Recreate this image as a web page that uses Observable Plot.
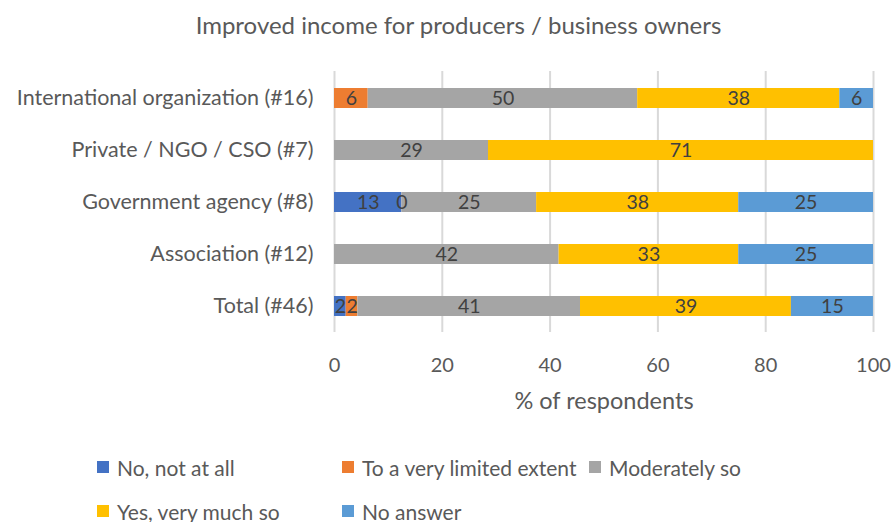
<!DOCTYPE html>
<html><head><meta charset="utf-8">
<script src="https://cdn.jsdelivr.net/npm/d3@7"></script>
<script src="https://cdn.jsdelivr.net/npm/@observablehq/plot@0.6"></script>
<style>
body{margin:0;background:#fff;font-family:Lato, sans-serif;}
#wrap{position:relative;width:895px;height:522px;overflow:hidden}
#wrap svg{position:absolute;left:0;top:0}
#title{position:absolute;left:22px;width:873px;top:10px;text-align:center;font-size:24px;color:#595959;line-height:30px}
.leg{position:absolute;font-size:21px;color:#595959;white-space:nowrap;height:24px;display:flex;align-items:center}
.leg .sw{display:inline-block;width:12px;height:12px;margin-right:8px}
</style></head><body>
<div id="wrap"><div id="title">Improved income for producers / business owners</div></div>
<script>
const categories = ["International organization (#16)", "Private / NGO / CSO (#7)", "Government agency (#8)", "Association (#12)", "Total (#46)"];
const seriesNames = ["No, not at all", "To a very limited extent", "Moderately so", "Yes, very much so", "No answer"];
const seriesColors = ["#4472C4", "#ED7D31", "#A5A5A5", "#FFC000", "#5B9BD5"];
// values per series, aligned with categories (null = no segment / no label)
const noNotAtAll  = [null, null, 12.5, null, 2.17];
const veryLimited = [6.25, null, 0, null, 2.17];
const moderately  = [50, 28.57, 25, 41.67, 41.3];
const yesVeryMuch = [37.5, 71.43, 37.5, 33.33, 39.13];
const noAnswer    = [6.25, null, 25, 25, 15.22];
const xTicks = [0, 20, 40, 60, 80, 100];

const seriesValues = [noNotAtAll, veryLimited, moderately, yesVeryMuch, noAnswer];
const rows = [];
seriesNames.forEach((s, si) => {
  categories.forEach((c, ci) => {
    const v = seriesValues[si][ci];
    if (v !== null) rows.push({category: c, series: s, value: v});
  });
});

const chart = Plot.plot({
  width: 895, height: 522,
  marginTop: 71, marginBottom: 190, marginLeft: 334, marginRight: 22,
  style: {fontFamily: "Lato, sans-serif", fontSize: "21.5px", color: "#595959", background: "transparent"},
  x: {domain: [0, 100], ticks: xTicks, tickSize: 0, tickPadding: 25, label: null},
  y: {domain: categories, paddingInner: 0.62, paddingOuter: 0.31, tickSize: 0, tickPadding: 21, label: null},
  color: {domain: seriesNames, range: seriesColors},
  marks: [
    Plot.ruleX(xTicks, {stroke: "#d9d9d9", strokeWidth: 2}),
    Plot.barX(rows, Plot.stackX({x: "value", y: "category", fill: "series", order: seriesNames})),
    Plot.text(rows, Plot.stackX({x: "value", y: "category", z: "series", order: seriesNames, text: d => String(Math.round(d.value)), fill: "#404040", fontSize: 19.5})),
    Plot.text(["% of respondents"], {frameAnchor: "bottom", dy: 76, fontSize: 23.5, fill: "#595959", text: d => d})
  ]
});
chart.querySelectorAll('[aria-label^="x-axis"]').forEach(g => g.setAttribute("font-size", "20"));
document.getElementById("wrap").appendChild(chart);

const legendPos = [[97, 455], [342, 455], [589, 455], [97, 499], [342, 499]];
seriesNames.forEach((s, i) => {
  const d = document.createElement("div");
  d.className = "leg";
  d.style.left = legendPos[i][0] + "px";
  d.style.top = legendPos[i][1] + "px";
  d.innerHTML = `<span class="sw" style="background:${seriesColors[i]}"></span><span>${s}</span>`;
  document.getElementById("wrap").appendChild(d);
});
</script>
</body></html>
